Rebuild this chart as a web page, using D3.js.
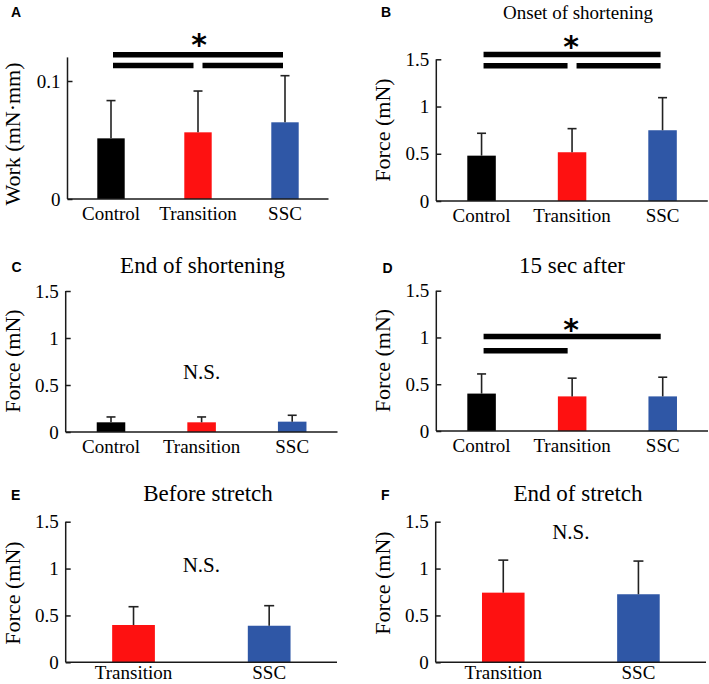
<!DOCTYPE html>
<html>
<head>
<meta charset="utf-8">
<script src="https://cdn.jsdelivr.net/npm/d3@7/dist/d3.min.js"></script>
<style>
  html, body { margin: 0; padding: 0; background: #fff; }
  svg { display: block; }
  text { fill: #000; }
</style>
</head>
<body>
<svg id="chart" width="709" height="684"></svg>
<script>
// ---------- DATA ----------
const catsThree = ["Control", "Transition", "SSC"];
const catsTwo = ["Transition", "SSC"];
const groupColors = { Control: "#000000", Transition: "#fe1111", SSC: "#2f57a6" };

const workMean = [0.0514, 0.0565, 0.065];
const workSD   = [0.032, 0.035, 0.0395];

const onsetMean = [0.48, 0.516, 0.749];
const onsetSD   = [0.237, 0.25, 0.345];

const endShortMean = [0.103, 0.103, 0.11];
const endShortSD   = [0.057, 0.057, 0.068];

const after15Mean = [0.40, 0.37, 0.37];
const after15SD   = [0.21, 0.195, 0.205];

const beforeStretchMean = [0.398, 0.39];
const beforeStretchSD   = [0.195, 0.214];

const endStretchMean = [0.743, 0.726];
const endStretchSD   = [0.347, 0.354];

const workTicks = [0, 0.1];
const forceTicks = [0, 0.5, 1, 1.5];

// significance brackets: [fromIndex, toIndex, level in data units]
const sigA = [[0, 2, 0.1222], [0, 1, 0.1131], [1, 2, 0.1131]];
const sigB = [[0, 2, 1.551], [0, 1, 1.432], [1, 2, 1.432]];
const sigD = [[0, 2, 1.01], [0, 1, 0.858]];
const starA = 0.1356, starB = 1.70, starD = 1.15;
const nsC = 0.564, nsE = 0.96, nsF = 1.32;

// ---------- LAYOUT ----------
const panels = [
  { letter: "A", lx: 11, ly: 17, cats: catsThree, mean: workMean, sd: workSD,
    domain: [0, 0.12], ticks: workTicks, fmt: d => d === 0 ? "0" : "0.1",
    x0: 67.5, x1: 328.5, y0: 199, yTop: 57.4, xly: 21,
    ylabel: "Work (mN·mm)", ylx: 20, yly: 134,
    title: null, sig: sigA, star: starA, ns: null },
  { letter: "B", lx: 381, ly: 17, cats: catsThree, mean: onsetMean, sd: onsetSD,
    domain: [0, 1.5], ticks: forceTicks, fmt: d => String(d),
    x0: 436.3, x1: 707.8, y0: 201, yTop: 59.3, xly: 21,
    ylabel: "Force (mN)", ylx: 390, yly: 130,
    title: "Onset of shortening", tx: 578, ty: 18.5, tsize: 19,
    sig: sigB, star: starB, ns: null },
  { letter: "C", lx: 11.5, ly: 271.5, cats: catsThree, mean: endShortMean, sd: endShortSD,
    domain: [0, 1.5], ticks: forceTicks, fmt: d => String(d),
    x0: 65.7, x1: 337.5, y0: 432, yTop: 291, xly: 21,
    ylabel: "Force (mN)", ylx: 20, yly: 361,
    title: "End of shortening", tx: 202.5, ty: 272.7, tsize: 23,
    sig: null, star: null, ns: nsC },
  { letter: "D", lx: 382.5, ly: 272.5, cats: catsThree, mean: after15Mean, sd: after15SD,
    domain: [0, 1.5], ticks: forceTicks, fmt: d => String(d),
    x0: 436.3, x1: 708, y0: 431, yTop: 290.7, xly: 21,
    ylabel: "Force (mN)", ylx: 390, yly: 360.5,
    title: "15 sec after", tx: 572, ty: 273.3, tsize: 23,
    sig: sigD, star: starD, ns: null },
  { letter: "E", lx: 11, ly: 500, cats: catsTwo, mean: beforeStretchMean, sd: beforeStretchSD,
    domain: [0, 1.5], ticks: forceTicks, fmt: d => String(d),
    x0: 65.7, x1: 337, y0: 662.3, yTop: 521.7, xly: 17,
    ylabel: "Force (mN)", ylx: 20, yly: 593,
    title: "Before stretch", tx: 208, ty: 501, tsize: 23,
    sig: null, star: null, ns: nsE },
  { letter: "F", lx: 381, ly: 500, cats: catsTwo, mean: endStretchMean, sd: endStretchSD,
    domain: [0, 1.5], ticks: forceTicks, fmt: d => String(d),
    x0: 435.7, x1: 706, y0: 662.3, yTop: 521.7, xly: 17,
    ylabel: "Force (mN)", ylx: 390, yly: 583,
    title: "End of stretch", tx: 578, ty: 501, tsize: 23,
    sig: null, star: null, ns: nsF }
];

const svg = d3.select("#chart");
const serif = "'Liberation Serif','Times New Roman',Times,serif";
const sans = "'Liberation Sans',Arial,Helvetica,sans-serif";
const axisColor = "#1a1a1a";

panels.forEach(p => {
  const g = svg.append("g");
  const x = d3.scaleBand().domain(p.cats).range([p.x0, p.x1])
    .paddingInner(0.685).paddingOuter(0.3425);
  const y = d3.scaleLinear().domain(p.domain).range([p.y0, p.yTop]);
  const cx = c => x(c) + x.bandwidth() / 2;
  const capW = p.cats.length === 3 ? 9 : 10;

  // panel letter
  g.append("text").attr("x", p.lx).attr("y", p.ly)
    .attr("font-family", sans).attr("font-weight", "bold").attr("font-size", 14)
    .text(p.letter);

  // title
  if (p.title) {
    g.append("text").attr("x", p.tx).attr("y", p.ty).attr("text-anchor", "middle")
      .attr("font-family", serif).attr("font-size", p.tsize).text(p.title);
  }

  // bars
  const rows = p.cats.map((c, i) => ({ c, m: p.mean[i], s: p.sd[i] }));
  g.selectAll("rect.bar").data(rows).join("rect").attr("class", "bar")
    .attr("x", d => x(d.c)).attr("width", x.bandwidth())
    .attr("y", d => y(d.m)).attr("height", d => y(0) - y(d.m))
    .attr("fill", d => groupColors[d.c]);

  // error bars (upper only)
  g.selectAll("line.stem").data(rows).join("line").attr("class", "stem")
    .attr("x1", d => cx(d.c)).attr("x2", d => cx(d.c))
    .attr("y1", d => y(d.m)).attr("y2", d => y(d.m + d.s))
    .attr("stroke", "#222").attr("stroke-width", 1.6);
  g.selectAll("line.cap").data(rows).join("line").attr("class", "cap")
    .attr("x1", d => cx(d.c) - capW / 2).attr("x2", d => cx(d.c) + capW / 2)
    .attr("y1", d => y(d.m + d.s)).attr("y2", d => y(d.m + d.s))
    .attr("stroke", "#222").attr("stroke-width", 1.6);

  // y axis
  const yAxis = d3.axisLeft(y).tickValues(p.ticks).tickFormat(p.fmt)
    .tickSize(-5).tickPadding(7);
  const ya = g.append("g").attr("transform", `translate(${p.x0},0)`).call(yAxis)
    .attr("font-family", serif);
  ya.select(".domain").attr("stroke", axisColor).attr("stroke-width", 1.5)
    .attr("d", `M0,${p.yTop}V${p.y0}`);
  ya.selectAll(".tick line").attr("stroke", axisColor).attr("stroke-width", 1.5);
  ya.selectAll(".tick text").attr("font-family", serif).attr("font-size", 19).attr("fill", "#000");

  // x axis
  const xAxis = d3.axisBottom(x).tickSize(0).tickPadding(0);
  const xa = g.append("g").attr("transform", `translate(0,${p.y0})`).call(xAxis)
    .attr("font-family", serif);
  xa.select(".domain").attr("stroke", axisColor).attr("stroke-width", 1.5)
    .attr("d", `M${p.x0},0H${p.x1}`);
  xa.selectAll(".tick text").attr("font-family", serif).attr("font-size", 19)
    .attr("fill", "#000").attr("dy", null).attr("y", p.xly);

  // y label
  g.append("text")
    .attr("transform", `translate(${p.ylx},${p.yly}) rotate(-90)`)
    .attr("text-anchor", "middle").attr("font-family", serif).attr("font-size", 22)
    .text(p.ylabel);

  // significance
  if (p.sig) {
    const n = p.cats.length;
    g.selectAll("line.sig").data(p.sig).join("line").attr("class", "sig")
      .attr("x1", d => cx(p.cats[d[0]]) + (d[0] === 0 ? 2 : 4.5))
      .attr("x2", d => cx(p.cats[d[1]]) - (d[1] === n - 1 ? 2 : 4.5))
      .attr("y1", d => y(d[2])).attr("y2", d => y(d[2]))
      .attr("stroke", "#000").attr("stroke-width", 5.5);
    const sx = p.letter === "A" ? 199 : 571;
    g.append("text").attr("x", sx).attr("y", y(p.star) + 0.54 * 30)
      .attr("text-anchor", "middle").attr("font-family", "'DejaVu Sans',sans-serif")
      .attr("font-weight", "bold").attr("font-size", 30).text("*");
  }

  if (p.ns !== null) {
    g.append("text").attr("x", (p.x0 + p.x1) / 2).attr("y", y(p.ns))
      .attr("text-anchor", "middle").attr("font-family", serif).attr("font-size", 21)
      .text("N.S.");
  }
});
</script>
</body>
</html>
